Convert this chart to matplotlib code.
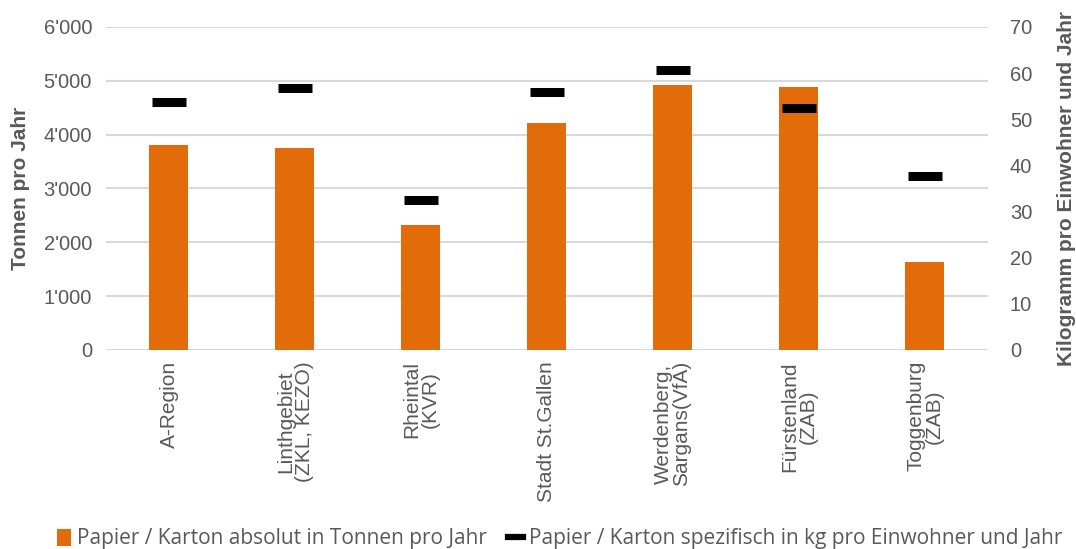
import matplotlib.pyplot as plt
from matplotlib.ticker import FuncFormatter, MultipleLocator
from matplotlib.patches import Patch
from matplotlib.lines import Line2D
import numpy as np

# Data
regions = ['A-Region', 'Linthgebiet\n(ZKL, KEZO)', 'Rheintal\n(KVR)', 'Stadt St.Gallen',
           'Werdenberg,\nSargans(VfA)', 'Fürstenland\n(ZAB)', 'Toggenburg\n(ZAB)']
tonnes = [3800, 3760, 2320, 4210, 4920, 4880, 1640]          # t / year
kg_per_person = [53.8, 56.8, 32.4, 55.8, 60.6, 52.4, 37.8]  # kg / inhabitant / year

orange = '#E36C0A'
grey = '#595959'
grid_col = '#D9D9D9'

plt.rcParams['font.family'] = ['Liberation Sans', 'DejaVu Sans']

fig = plt.figure(figsize=(10.76, 5.49), dpi=100)
ax = fig.add_axes([0.0985, 0.3625, 0.8195, 0.5885])
ax2 = ax.twinx()

x = np.arange(len(regions))
ax.bar(x, tonnes, width=0.31, color=orange, zorder=3)
ax2.plot(x, kg_per_person, ls='none', marker='_', ms=24, mew=6.5, color='black', zorder=4)

ax.set_xlim(-0.5, len(regions) - 0.5)
ax.set_ylim(0, 6000)
ax2.set_ylim(0, 70)
ax.yaxis.set_major_locator(MultipleLocator(1000))
ax2.yaxis.set_major_locator(MultipleLocator(10))
ax.yaxis.set_major_formatter(FuncFormatter(lambda v, p: f"{int(v):,}".replace(',', "'")))

ax.grid(axis='y', color=grid_col, lw=1.5, zorder=0)
ax.set_axisbelow(True)
for a in (ax, ax2):
    for s in a.spines.values():
        s.set_visible(False)
    a.tick_params(length=0, colors=grey, labelsize=14.5)

ax.set_xticks(x)
ax.set_xticklabels(regions, rotation=90, ha='center', va='top', multialignment='center',
                   fontsize=15, color=grey, linespacing=0.95)
ax.tick_params(axis='x', pad=8)
ax.tick_params(axis='y', pad=10)
ax2.tick_params(axis='y', pad=16)

ax.set_ylabel('Tonnen pro Jahr', fontsize=15, fontweight='bold', color=grey, labelpad=10)
ax2.set_ylabel('Kilogramm pro Einwohner und Jahr', fontsize=15, fontweight='bold',
               color=grey, labelpad=18)

handles = [Patch(facecolor=orange, edgecolor='none'),
           Line2D([0], [0], color='black', lw=4.5)]
labels = ['Papier / Karton absolut in Tonnen pro Jahr',
          'Papier / Karton spezifisch in kg pro Einwohner und Jahr']
fig.legend(handles, labels, loc='lower center', bbox_to_anchor=(0.52, -0.035), ncol=2,
           frameon=False, handlelength=0.7, handleheight=0.9, handletextpad=0.3,
           columnspacing=1.0, prop={'family': 'Open Sans', 'size': 15}, labelcolor=grey)

fig.savefig('out.png', dpi=100)
